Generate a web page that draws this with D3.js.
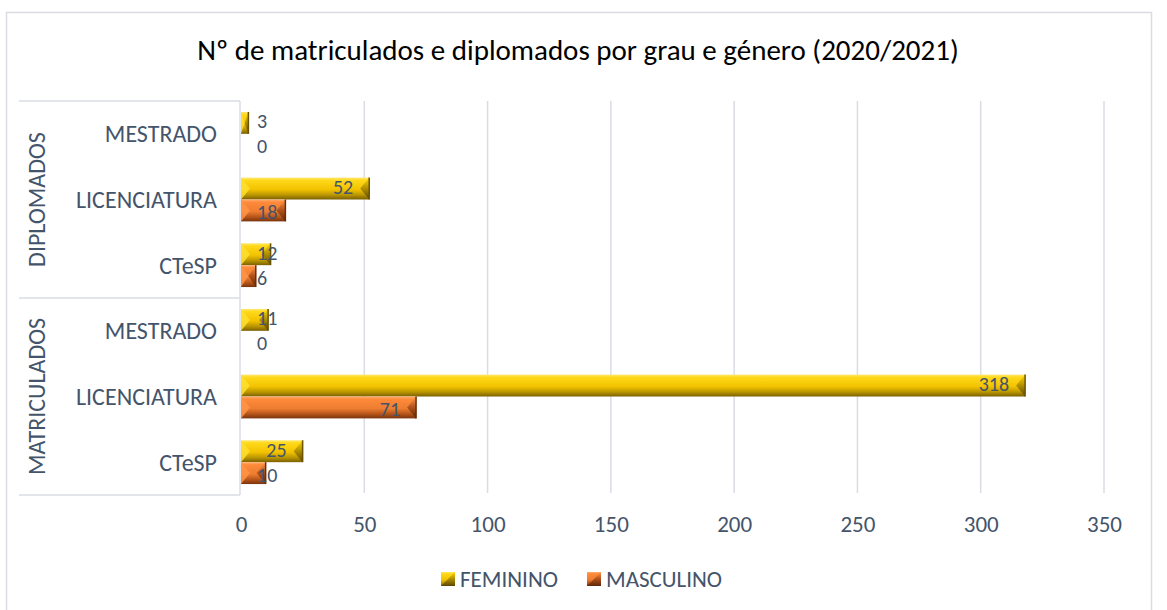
<!DOCTYPE html>
<html><head><meta charset="utf-8">
<script src="https://cdn.jsdelivr.net/npm/d3@7"></script>
<style>
html,body{margin:0;padding:0;background:#fff;}
svg text{font-family:Carlito, Calibri, Lato, "Open Sans", sans-serif;}
</style></head>
<body><svg id="c" width="1167" height="610"></svg>
<script>
const groups = ["DIPLOMADOS","MATRICULADOS"];
const categories = ["MESTRADO","LICENCIATURA","CTeSP","MESTRADO","LICENCIATURA","CTeSP"];
const categoryGroup = ["DIPLOMADOS","DIPLOMADOS","DIPLOMADOS","MATRICULADOS","MATRICULADOS","MATRICULADOS"];
const feminino = [3,52,12,11,318,25];
const masculino = [0,18,6,0,71,10];
const seriesNames = ["FEMININO","MASCULINO"];
const xTicks = [0,50,100,150,200,250,300,350];
const title = "Nº de matriculados e diplomados por grau e género (2020/2021)";

const svg = d3.select("#c");
const textCol = "#44546a", gridCol = "#d9dce3";
const defs = svg.append("defs");
function grad(id, stops){
  const g = defs.append("linearGradient").attr("id",id).attr("x1",0).attr("y1",0).attr("x2",0).attr("y2",1);
  stops.forEach(s=>g.append("stop").attr("offset",s[0]).attr("stop-color",s[1]));
}
grad("gF",[[0,"#ffe873"],[0.12,"#ffd91a"],[0.55,"#f2c200"],[0.8,"#b89400"],[1,"#7a6000"]]);
grad("gM",[[0,"#ffb070"],[0.12,"#ff8a3a"],[0.55,"#ed7d31"],[0.8,"#b5541a"],[1,"#7a330c"]]);
grad("gFc",[[0,"#ffd700"],[0.5,"#b08e00"],[1,"#5c4700"]]);
grad("gMc",[[0,"#ff9a50"],[0.5,"#b0501a"],[1,"#5e2808"]]);
const fills = {FEMININO:["url(#gF)","url(#gFc)","#6b5400"],MASCULINO:["url(#gM)","url(#gMc)","#6b2d08"]};

// frame
svg.append("rect").attr("x",6.5).attr("y",12.5).attr("width",1145).attr("height",620)
  .attr("fill","none").attr("stroke",gridCol).attr("stroke-width",1.5);

svg.append("text").attr("x",578).attr("y",60).attr("text-anchor","middle")
  .attr("font-size",29).attr("fill","#000").text(title);

const x = d3.scaleLinear().domain([0,350]).range([241,1104]);
const y = d3.scaleBand().domain(d3.range(categories.length)).range([101,495]);
const ys = d3.scaleBand().domain(seriesNames).range([0,y.bandwidth()]).paddingInner(0).paddingOuter(0.5);

// grid
svg.append("g").selectAll("line").data(xTicks.slice(1)).join("line")
  .attr("x1",d=>x(d)).attr("x2",d=>x(d)).attr("y1",101).attr("y2",493)
  .attr("stroke",gridCol).attr("stroke-width",1.5);

// x tick labels
const xa = svg.append("g").attr("transform","translate(0,494)")
  .call(d3.axisBottom(x).tickValues(xTicks).tickSize(0));
xa.select(".domain").remove();
xa.selectAll("text").attr("y",30).attr("dy","0.35em")
  .attr("font-size",23).attr("fill",textCol).style("font-family",null);

// category axis lines
const ax = svg.append("g").attr("stroke",gridCol).attr("stroke-width",1.5);
ax.append("line").attr("x1",240).attr("x2",240).attr("y1",101).attr("y2",495);
[0,3,6].forEach(i=>{
  const yy = i<6 ? y(i) : 495;
  ax.append("line").attr("x1",19).attr("x2",240).attr("y1",yy).attr("y2",yy);
});

// category labels
svg.append("g").selectAll("text").data(categories).join("text")
  .attr("x",217).attr("y",(d,i)=>y(i)+y.bandwidth()/2).attr("dy","0.35em")
  .attr("text-anchor","end").attr("font-size",24).attr("fill",textCol).text(d=>d);

// group labels
groups.forEach(g=>{
  const idx = categoryGroup.map((c,i)=>c===g?i:-1).filter(i=>i>=0);
  const cy = (y(idx[0]) + y(idx[idx.length-1]) + y.bandwidth())/2;
  svg.append("text").attr("transform",`translate(37,${cy}) rotate(-90)`).attr("dy","0.35em")
    .attr("text-anchor","middle").attr("font-size",24).attr("fill",textCol).text(g);
});

// bars
const data = [];
categories.forEach((c,i)=>{
  data.push({i, s:"FEMININO", v:feminino[i]});
  data.push({i, s:"MASCULINO", v:masculino[i]});
});
const bars = svg.append("g");
data.forEach(d=>{
  const y0 = y(d.i)+ys(d.s), h = ys.bandwidth();
  const x0 = x(0), x1 = x(d.v);
  const w = x1-x0;
  if (w <= 0) return;
  const g = bars.append("g");
  const [f, fc, dark] = fills[d.s];
  g.append("rect").attr("x",x0).attr("y",y0).attr("width",w).attr("height",h).attr("fill",f);
  const b = Math.min(9, w/2);
  g.append("polygon").attr("points",`${x0},${y0} ${x0+b},${y0+h/2} ${x0},${y0+h}`)
    .attr("fill", d.s==="FEMININO" ? "#ffdf30" : "#ff9448").attr("opacity",0.85);
  g.append("polygon").attr("points",`${x1},${y0} ${x1},${y0+h} ${x1-b},${y0+h/2}`)
    .attr("fill",fc);
  g.append("line").attr("x1",x1).attr("x2",x1).attr("y1",y0).attr("y2",y0+h)
    .attr("stroke",dark).attr("stroke-width",1.5);
});

// labels
const labels = svg.append("g");
data.forEach(d=>{
  const yc = y(d.i)+ys(d.s)+ys.bandwidth()/2 + (d.s==="FEMININO" ? -1.5 : 1.5);
  const t = labels.append("text").attr("y",yc).attr("dy","0.35em")
    .attr("font-size",20).attr("fill",textCol).text(d.v);
  const tw = t.node().getComputedTextLength();
  let left = x(d.v) - 16 - tw;
  if (left < x(0)+16) left = x(0)+16;
  t.attr("x", left);
});

// legend
const legend = svg.append("g");
const legItems = [{s:"FEMININO",x:441},{s:"MASCULINO",x:587}];
legItems.forEach(l=>{
  const [f, fc, dark] = fills[l.s];
  legend.append("rect").attr("x",l.x).attr("y",572).attr("width",14).attr("height",14).attr("fill",f);
  legend.append("polygon").attr("points",`${l.x+14},${572} ${l.x+14},${586} ${l.x},${586}`).attr("fill",fc);
  legend.append("text").attr("x",l.x+19).attr("y",579).attr("dy","0.35em")
    .attr("font-size",23).attr("fill",textCol).text(l.s);
});
</script></body></html>
